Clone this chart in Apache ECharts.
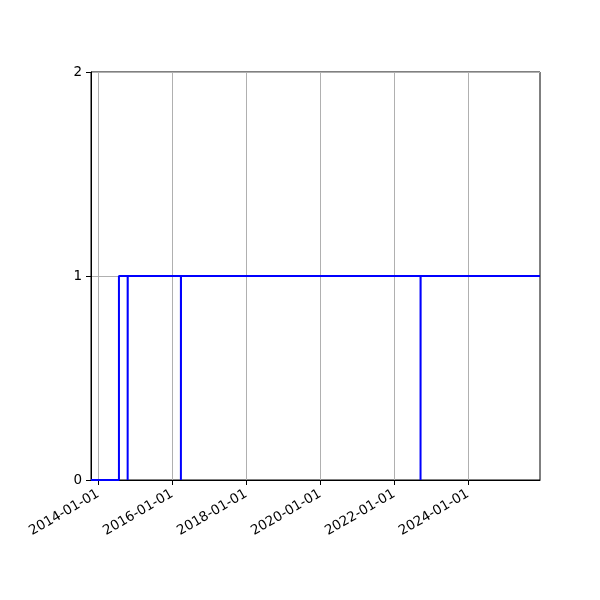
<!DOCTYPE html>
<html>
<head>
<meta charset="utf-8">
<script src="https://cdn.jsdelivr.net/npm/echarts@6/dist/echarts.min.js"></script>
<style>html,body{margin:0;padding:0;background:#fff}#c{width:600px;height:600px}</style>
</head>
<body>
<div id="c"></div>
<script>
const dates = ['2013-10-21','2014-07-24','2014-10-18','2014-10-19','2016-03-27','2016-03-28','2022-09-19','2022-09-20','2025-12-12'];
const values = [0, 1, 0, 1, 0, 1, 0, 1, 1];
const xTicks = ['2014-01-01','2016-01-01','2018-01-01','2020-01-01','2022-01-01','2024-01-01'];
const yTicks = [0, 1, 2];
const xMin = '2013-10-21';
const xMax = '2025-12-12';

const ts = d => +echarts.time.parse(d);
const chart = echarts.init(document.getElementById('c'), null, {renderer: 'canvas'});
const font = 'DejaVu Sans';
const xTickVals = xTicks.map(ts);
chart.setOption({
  animation: false,
  grid: {left: 91, right: 60, top: 72, bottom: 120, show: true, borderColor: '#000', borderWidth: 1, backgroundColor: 'transparent'},
  xAxis: {
    type: 'value',
    min: ts(xMin), max: ts(xMax),
    axisLine: {show: true, onZero: false, lineStyle: {color: '#000', width: 1}},
    axisTick: {show: true, length: 5, lineStyle: {color: '#000'}, customValues: xTickVals},
    axisLabel: {
      customValues: xTickVals, rotate: 30, margin: 13, color: '#000', fontFamily: font, fontSize: 13.5,
      formatter: v => echarts.time.format(v, '{yyyy}-{MM}-{dd}', false), hideOverlap: false
    },
    splitLine: {show: true, lineStyle: {color: '#b0b0b0', width: 1}}
  },
  yAxis: {
    type: 'value', min: yTicks[0], max: yTicks[yTicks.length - 1], interval: 1,
    axisLine: {show: true, lineStyle: {color: '#000', width: 1}},
    axisTick: {show: true, length: 5, lineStyle: {color: '#000'}},
    axisLabel: {margin: 9, color: '#000', fontFamily: font, fontSize: 13.5},
    splitLine: {show: true, lineStyle: {color: '#b0b0b0', width: 1}}
  },
  series: [{
    type: 'line',
    step: 'end',
    showSymbol: false,
    data: dates.map((d, i) => [ts(d), values[i]]),
    lineStyle: {color: '#0000ff', width: 2},
    itemStyle: {color: '#0000ff'},
    z: 5
  }]
});
</script>
</body>
</html>
